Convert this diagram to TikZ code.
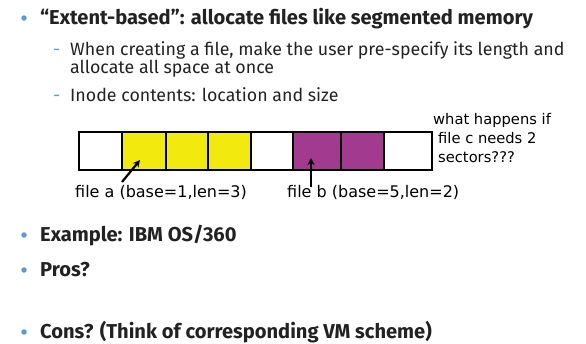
\documentclass[tikz,border=0pt]{standalone}
\usepackage{fontspec}
\setmainfont{Fira Sans}
\newfontfamily\handfont{DejaVu Sans}
\usetikzlibrary{arrows.meta}
\definecolor{txt}{HTML}{222222}
\definecolor{bul}{HTML}{5B9BD5}
\definecolor{fya}{HTML}{F2EA0E}
\definecolor{fpu}{HTML}{A23A90}
\begin{document}
\begin{tikzpicture}[x=1pt,y=-1pt,
  mainline/.style={anchor=base west, inner sep=0pt, text=txt,
    font=\fontsize{20.1}{24}\selectfont\bfseries},
  subline/.style={anchor=base west, inner sep=0pt, text=txt,
    font=\fontsize{17.8}{21}\selectfont},
  dot/.style={circle, fill=bul, inner sep=0pt, minimum size=5.5pt},
  dashmark/.style={anchor=base west, inner sep=0pt, text=bul,
    font=\fontsize{17.8}{21}\selectfont},
  cell/.style={draw=black, line width=2pt, minimum height=38pt, inner sep=0pt},
  hand/.style={anchor=base west, inner sep=0pt, text=black,
    font=\handfont\fontsize{16}{18}\selectfont},
  ask/.style={hand, font=\handfont\fontsize{14.7}{17}\selectfont},
  arr/.style={line width=2.2pt, -{Stealth[length=7pt,width=7pt]}}
]
\useasboundingbox (0,0) rectangle (586,343);

% top bullet and its sub-points
\node[dot] (b1) at (24,18) {};
\node[mainline] (t1) at (40,24) {“Extent-based”: allocate files like segmented memory};
\node[dashmark] (d1) at (53,55) {-};
\node[subline] (s1) at (70,55) {When creating a file, make the user pre-specify its length and};
\node[subline] (s2) at (70,73.5) {allocate all space at once};
\node[dashmark] (d2) at (53,101) {-};
\node[subline] (s3) at (70,101) {Inode contents: location and size};

% disk sectors
\node[cell, minimum width=43pt] (c0) at (100.5,151) {};
\node[cell, fill=fya, minimum width=44pt] (c1) at (144,151) {};
\node[cell, fill=fya, minimum width=42pt] (c2) at (187,151) {};
\node[cell, fill=fya, minimum width=43pt] (c3) at (229.5,151) {};
\node[cell, minimum width=42pt] (c4) at (272,151) {};
\node[cell, fill=fpu, minimum width=48pt] (c5) at (317,151) {};
\node[cell, fill=fpu, minimum width=43pt] (c6) at (362.5,151) {};
\node[cell, minimum width=48pt] (c7) at (408,151) {};

% file labels and pointers
\node[hand] (la) at (75,197) {file a (base=1,len=3)};
\node[hand] (lb) at (287,197) {file b (base=5,len=2)};
\coordinate (ta) at (122,182);
\coordinate (tb) at (311,187);
\draw[arr] (ta) -- ([xshift=-4pt,yshift=-9pt]c1.center);
\draw[arr] (tb) -- ([xshift=-6pt,yshift=-7pt]c5.center);

% question on the right
\node[ask] (q1) at (433,124) {what happens if};
\node[ask] (q2) at (438,143) {file c needs 2};
\node[ask] (q3) at (438,162) {sectors???};

% remaining bullets
\node[dot] (b2) at (24,235) {};
\node[mainline] (t2) at (40,241) {Example: IBM OS/360};
\node[dot] (b3) at (24,270) {};
\node[mainline] (t3) at (40,276) {Pros?};
\node[dot] (b4) at (24,332) {};
\node[mainline] (t4) at (40,338) {Cons? (Think of corresponding VM scheme)};
\end{tikzpicture}
\end{document}
